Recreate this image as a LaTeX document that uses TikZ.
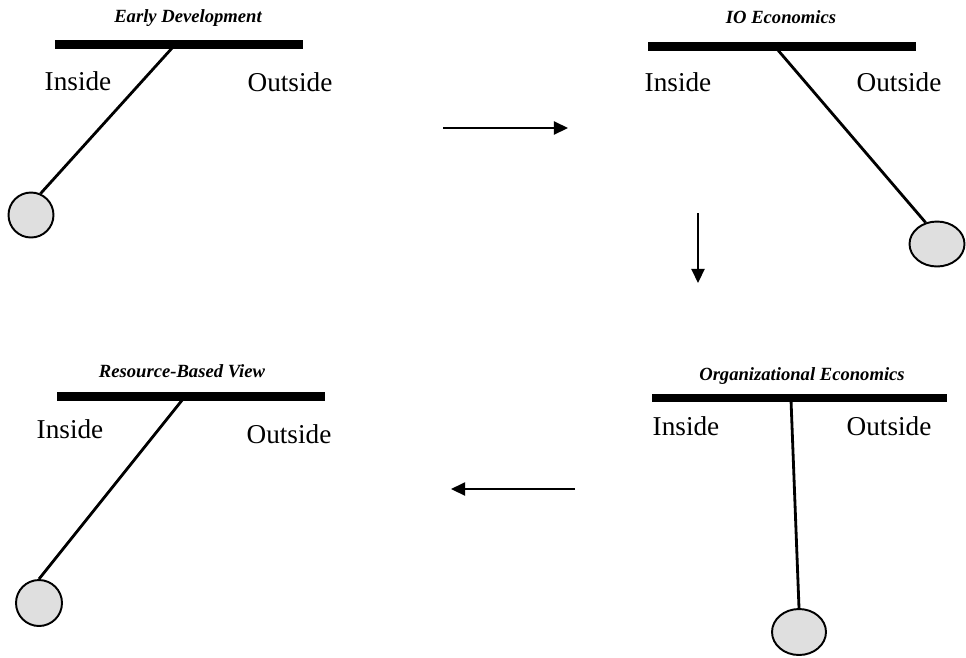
\documentclass[tikz,border=0pt]{standalone}
\usepackage{fontspec}
\setmainfont{Liberation Serif}
\usetikzlibrary{shapes.geometric,arrows.meta}
\begin{document}
\begin{tikzpicture}[x=0.02cm,y=-0.02cm,
  title/.style={font=\fontsize{10.6}{12}\selectfont\bfseries\itshape, anchor=base, inner sep=0pt},
  side/.style={font=\fontsize{15.5}{18}\selectfont, anchor=base, inner sep=0pt},
  bar/.style={line width=5.1pt},
  rod/.style={line width=1.6pt},
  ball/.style={draw, ellipse, line width=1.1pt, fill=gray!25, inner sep=0pt},
  flow/.style={line width=0.85pt, -{Triangle[length=8pt,width=7.5pt]}}]
\useasboundingbox (0,0) rectangle (966,657);
% Panel 1: Early Development
\node[title] (t1) at (188,22) {Early Development};
\coordinate (b1l) at (55,44.5); \coordinate (b1r) at (303,44.5);
\draw[bar] (b1l) -- (b1r);
\coordinate (a1) at (173,47);
\node[ball, minimum width=0.9cm, minimum height=0.9cm] (ball1) at (31,215) {};
\draw[rod] (a1) -- (ball1.66);
\node[side] (in1) at (78,90) {Inside};
\node[side] (out1) at (290,91) {Outside};
% Panel 2: IO Economics
\node[title] (t2) at (781,23) {IO Economics};
\coordinate (b2l) at (648,46.5); \coordinate (b2r) at (916,46.5);
\draw[bar] (b2l) -- (b2r);
\coordinate (a2) at (777,49);
\node[ball, minimum width=1.1cm, minimum height=0.9cm] (ball2) at (937,244) {};
\draw[rod] (a2) -- (ball2.118);
\node[side] (in2) at (678,91) {Inside};
\node[side] (out2) at (899,91) {Outside};
% Panel 4: Organizational Economics
\node[title] (t4) at (802,380) {Organizational Economics};
\coordinate (b4l) at (652,398); \coordinate (b4r) at (947,398);
\draw[bar] (b4l) -- (b4r);
\coordinate (a4) at (791,400);
\node[ball, minimum width=1.08cm, minimum height=0.92cm] (ball4) at (799,632) {};
\draw[rod] (a4) -- (ball4.north);
\node[side] (in4) at (686,435) {Inside};
\node[side] (out4) at (889,435) {Outside};
% Panel 3: Resource-Based View
\node[title] (t3) at (182,377) {Resource-Based View};
\coordinate (b3l) at (57,396.5); \coordinate (b3r) at (325,396.5);
\draw[bar] (b3l) -- (b3r);
\coordinate (a3) at (183,399);
\node[ball, minimum width=0.92cm, minimum height=0.92cm] (ball3) at (39,603) {};
\draw[rod] (a3) -- (ball3.north);
\node[side] (in3) at (70,438) {Inside};
\node[side] (out3) at (289,443) {Outside};
% Flow arrows
\coordinate (f1s) at (443,128); \coordinate (f1e) at (568,128);
\draw[flow] (f1s) -- (f1e);
\coordinate (f2s) at (698,213); \coordinate (f2e) at (698,283);
\draw[flow] (f2s) -- (f2e);
\coordinate (f3s) at (575,489); \coordinate (f3e) at (451,489);
\draw[flow] (f3s) -- (f3e);
\end{tikzpicture}
\end{document}
